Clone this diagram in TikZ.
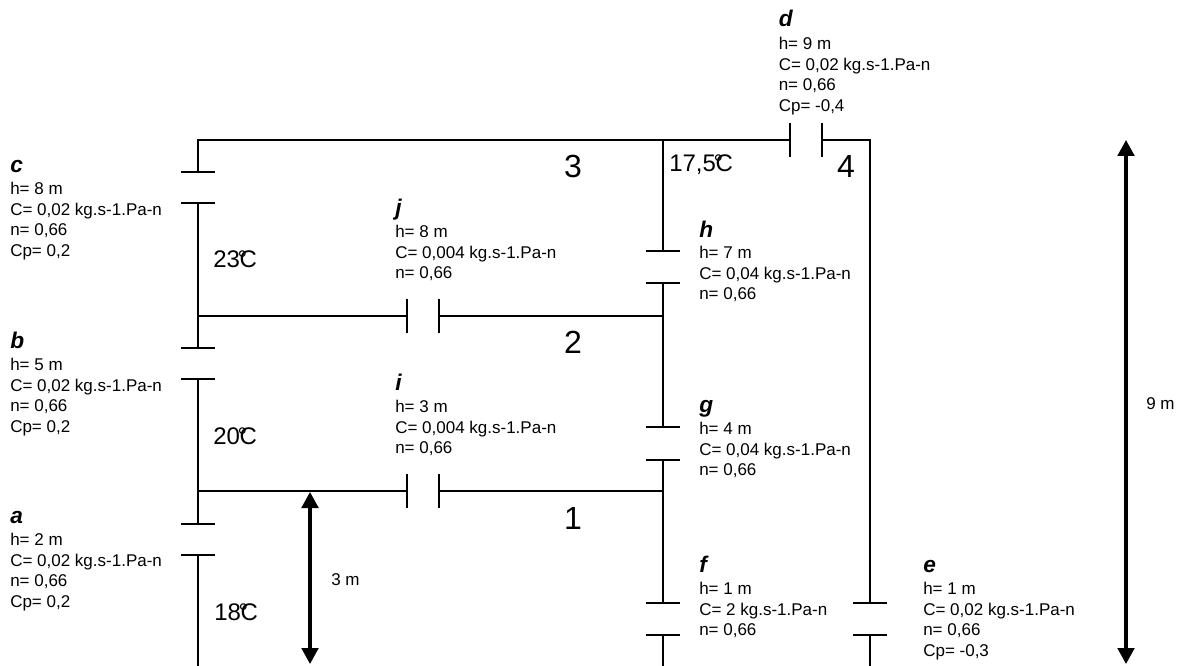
\documentclass[tikz,border=0pt]{standalone}
\usepackage{fontspec}
\setmainfont{Liberation Sans}
\usetikzlibrary{arrows.meta}
\tikzset{
  duct/.style={line width=1.5pt,line cap=rect},
  dim/.style={line width=2.3pt,{Triangle[length=12pt,width=12.5pt]}-{Triangle[length=12pt,width=12.5pt]}},
  tag/.style={anchor=base west,inner sep=0pt,font=\fontsize{17}{19}\selectfont\bfseries\itshape},
  body/.style={anchor=north west,inner sep=0pt,align=left,font=\fontsize{12.75}{15.4}\selectfont},
  temp/.style={anchor=base west,inner sep=0pt,font=\fontsize{18}{20}\selectfont},
  zone/.style={anchor=base,inner sep=0pt,font=\fontsize{24}{26}\selectfont},
  dimtext/.style={anchor=base west,inner sep=0pt,font=\fontsize{12.75}{15}\selectfont}
}
\newcommand{\degc}{\kern-0.1em°\kern-0.31em C}
\newcommand{\opening}[6]{% name, x, y, letter, body, body offset
  \node[tag] (#1t) at (#2,#3) {#4};
  \node[body] (#1b) at (#2,#3+10+#6) {#5};
}
\begin{document}
\begin{tikzpicture}[x=0.75pt,y=-0.75pt]
\useasboundingbox (0,0) rectangle (1187,666);
% junctions
\coordinate (tl) at (198,140);
\coordinate (tm) at (663,140);
\coordinate (tr) at (870,140);
\coordinate (jl) at (198,316);
\coordinate (jr) at (663,316);
\coordinate (il) at (198,491);
\coordinate (ir) at (663,491);
\coordinate (botl) at (198,666);
\coordinate (botm) at (663,666);
\coordinate (botr) at (870,666);
% openings: plate centres
\coordinate (c1) at (198,172); \coordinate (c2) at (198,203);
\coordinate (b1) at (198,348); \coordinate (b2) at (198,379);
\coordinate (a1) at (198,523.5); \coordinate (a2) at (198,555);
\coordinate (h1) at (663,251); \coordinate (h2) at (663,283);
\coordinate (g1) at (663,427); \coordinate (g2) at (663,460);
\coordinate (f1) at (663,603); \coordinate (f2) at (663,635);
\coordinate (e1) at (870,603); \coordinate (e2) at (870,635);
\coordinate (d1) at (790,140); \coordinate (d2) at (822,140);
\coordinate (j1) at (406.5,316); \coordinate (j2) at (438.5,316);
\coordinate (i1) at (406.5,491); \coordinate (i2) at (438.5,491);
% ducts
\draw[duct] (c1) -- (tl) -- (d1);
\draw[duct] (d2) -- (tr) -- (e1);
\draw[duct] (e2) -- (botr);
\draw[duct] (c2) -- (b1);
\draw[duct] (b2) -- (a1);
\draw[duct] (a2) -- (botl);
\draw[duct] (tm) -- (h1);
\draw[duct] (h2) -- (g1);
\draw[duct] (g2) -- (f1);
\draw[duct] (f2) -- (botm);
\draw[duct] (jl) -- (j1);
\draw[duct] (j2) -- (jr);
\draw[duct] (il) -- (i1);
\draw[duct] (i2) -- (ir);
% plates
\foreach \p in {c1,c2,b1,b2,a1,a2,h1,h2,g1,g2,f1,f2,e1,e2}
  \draw[duct,line cap=butt] ([xshift=-12.75pt]\p) -- ([xshift=12.75pt]\p);
\foreach \p in {d1,d2,j1,j2,i1,i2}
  \draw[duct,line cap=butt] ([yshift=-12.4pt]\p) -- ([yshift=12.4pt]\p);
% dimensions
\coordinate (ah) at (310,492);
\coordinate (al) at (310,664);
\coordinate (bh) at (1126,140);
\coordinate (bl) at (1126,664);
\draw[dim] (ah) -- (al);
\draw[dim] (bh) -- (bl);
\node[dimtext] (dim3) at (331,585) {3 m};
\node[dimtext] (dim9) at (1146,409) {9 m};
% labels
\opening{c}{10}{172.2}{c}{h= 8 m\\C= 0,02 kg.s-1.Pa-n\\n= 0,66\\Cp= 0,2}{0}
\opening{b}{10}{348}{b}{h= 5 m\\C= 0,02 kg.s-1.Pa-n\\n= 0,66\\Cp= 0,2}{0}
\opening{a}{10}{523}{a}{h= 2 m\\C= 0,02 kg.s-1.Pa-n\\n= 0,66\\Cp= 0,2}{0}
\opening{d}{778.5}{27}{d}{h= 9 m\\C= 0,02 kg.s-1.Pa-n\\n= 0,66\\Cp= -0,4}{0}
\opening{j}{395}{216}{j}{h= 8 m\\C= 0,004 kg.s-1.Pa-n\\n= 0,66}{-1}
\opening{i}{395}{390}{i}{h= 3 m\\C= 0,004 kg.s-1.Pa-n\\n= 0,66}{0}
\opening{h}{699}{238}{h}{h= 7 m\\C= 0,04 kg.s-1.Pa-n\\n= 0,66}{-2}
\opening{g}{699}{412}{g}{h= 4 m\\C= 0,04 kg.s-1.Pa-n\\n= 0,66}{0}
\opening{f}{699}{572}{f}{h= 1 m\\C= 2 kg.s-1.Pa-n\\n= 0,66}{0}
\opening{e}{923}{572}{e}{h= 1 m\\C= 0,02 kg.s-1.Pa-n\\n= 0,66\\Cp= -0,3}{0}
% temperatures
\node[temp] (t23) at (213,268) {23\degc};
\node[temp] (t20) at (213,444) {20\degc};
\node[temp] (t18) at (214,620) {18\degc};
\node[temp] (t17) at (669,172) {17,5\degc};
% zones
\node[zone] (z3) at (573,178) {3};
\node[zone] (z4) at (846,178) {4};
\node[zone] (z2) at (573,353) {2};
\node[zone] (z1) at (573,529) {1};
\end{tikzpicture}
\end{document}
